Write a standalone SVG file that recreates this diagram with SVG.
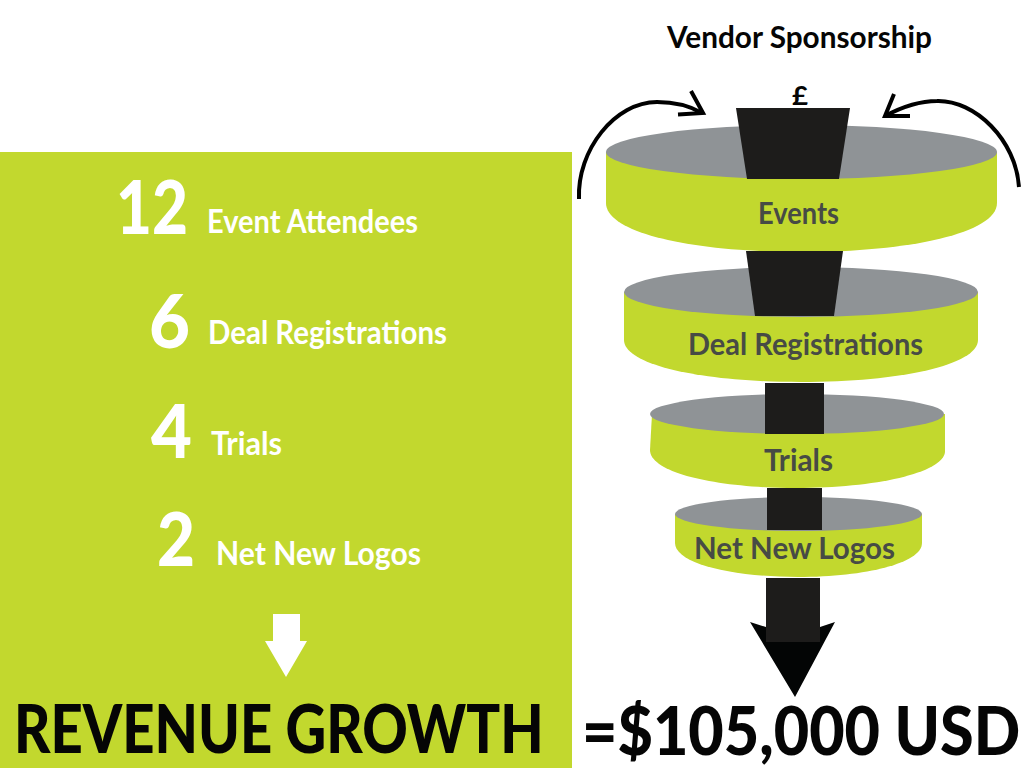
<svg xmlns="http://www.w3.org/2000/svg" width="1024" height="768" viewBox="0 0 1024 768">
<style>
text{font-family:"Lato","Open Sans",sans-serif;font-weight:700}
.w{fill:#fff}.d{fill:#474b45;font-size:31px}.k{fill:#050505}
.n{font-weight:900}
.g{fill:#c2d82e}.e{fill:#8f9396}.b{fill:#1d1c1b}
.c{fill:none;stroke:#000;stroke-width:4}
</style>
<rect width="1024" height="768" fill="#fff"/>
<rect class="g" x="0" y="152" width="572" height="616"/>
<text class="w n" x="116" y="234" font-size="74" textLength="72" lengthAdjust="spacingAndGlyphs">12</text>
<text class="w" x="207" y="233" font-size="32" textLength="211" lengthAdjust="spacingAndGlyphs">Event Attendees</text>
<text class="w n" x="149" y="348" font-size="74" textLength="41" lengthAdjust="spacingAndGlyphs">6</text>
<text class="w" x="208" y="344" font-size="32" textLength="239" lengthAdjust="spacingAndGlyphs">Deal Registrations</text>
<text class="w n" x="151" y="458" font-size="74" textLength="41" lengthAdjust="spacingAndGlyphs">4</text>
<text class="w" x="211" y="455" font-size="32" textLength="71" lengthAdjust="spacingAndGlyphs">Trials</text>
<text class="w n" x="157" y="566" font-size="74" textLength="38" lengthAdjust="spacingAndGlyphs">2</text>
<text class="w" x="216" y="565" font-size="32" textLength="205" lengthAdjust="spacingAndGlyphs">Net New Logos</text>
<polygon class="w" points="273,614 300,614 300,641 307,641 286,677 265,641 273,641"/>
<text class="k n" transform="translate(14 753) scale(.82 1)" font-size="66" textLength="646" lengthAdjust="spacingAndGlyphs">REVENUE GROWTH</text>
<text class="k n" transform="translate(582 755) scale(.9 1)" font-size="66" textLength="487" lengthAdjust="spacingAndGlyphs">=$105,000 USD</text>
<text class="k" x="667" y="48" font-size="31" textLength="265" lengthAdjust="spacingAndGlyphs">Vendor Sponsorship</text>
<text class="k" x="792" y="105" font-size="27" textLength="16" lengthAdjust="spacingAndGlyphs">£</text>
<g id="node-events">
<path class="g" d="M606 152H997V203C997 233 910 252 801 252S606 233 606 203Z"/>
<ellipse class="e" cx="801.500" cy="152" rx="195.500" ry="27"/>
<polygon class="b" points="736,108 850,108 839,179 747,179"/>
<text class="d" x="758" y="224" textLength="81" lengthAdjust="spacingAndGlyphs">Events</text>
</g>
<g id="node-deal">
<path class="g" d="M624 292H978V340C978 365 900 382 801 382S624 365 624 340Z"/>
<ellipse class="e" cx="801" cy="292" rx="177" ry="25"/>
<polygon class="b" points="746,251 843,251 834,316 755,316"/>
<text class="d" x="688" y="355" textLength="235" lengthAdjust="spacingAndGlyphs">Deal Registrations</text>
</g>
<g id="node-trials">
<path class="g" d="M652 414H945V452C943 473 875 488 796 488S650 473 650 450Z"/>
<ellipse class="e" cx="797" cy="414" rx="147" ry="20"/>
<rect class="b" x="765" y="383" width="59" height="51"/>
<text class="d" x="764" y="471" textLength="69" lengthAdjust="spacingAndGlyphs">Trials</text>
</g>
<g id="node-logos">
<path class="g" d="M675 514H922V543C922 563 866 577 798 577S675 563 675 543Z"/>
<ellipse class="e" cx="798.500" cy="514" rx="123.500" ry="17"/>
<rect class="b" x="767" y="488" width="55" height="42"/>
<text class="d" x="694" y="559" textLength="201" lengthAdjust="spacingAndGlyphs">Net New Logos</text>
</g>
<g id="connectors">
<polygon fill="#030505" points="750,622 766,627 820,627 835,622 795,697"/>
<rect class="b" x="766" y="578" width="54" height="64"/>
<path class="c" d="M579 199C577 150 615 102 657 102C675 102 690 106 702 113"/>
<path class="c" d="M691 91L703 113L678 114.500"/>
<path class="c" d="M1019 187C1016 140 975 100 937 101C918 101 900 108 885 116"/>
<path class="c" d="M894 94L885 116L910 116"/>
</g>
</svg>
